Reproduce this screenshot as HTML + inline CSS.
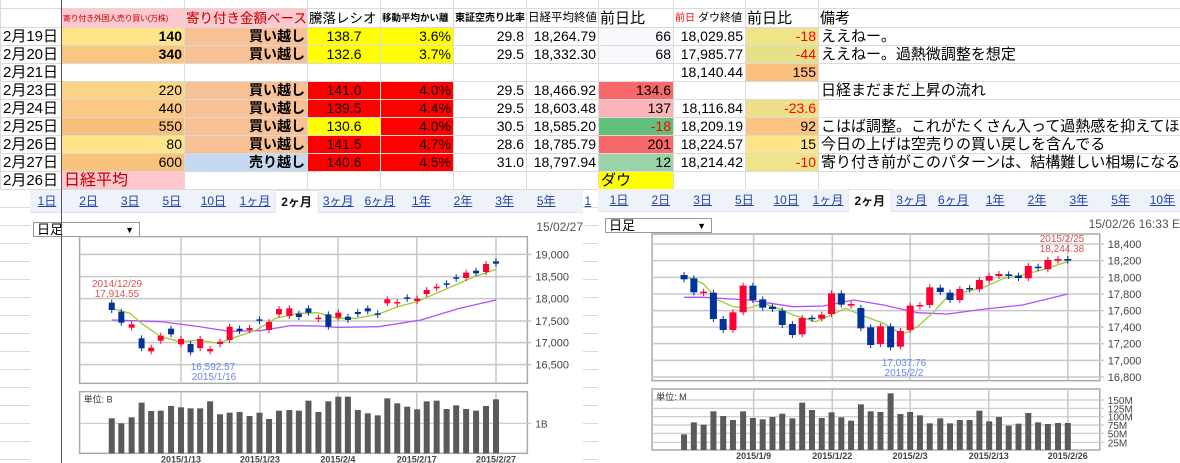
<!DOCTYPE html>
<html><head><meta charset="utf-8"><style>
body{margin:0;width:1180px;height:463px;overflow:hidden;background:#fff;position:relative;font-family:"Liberation Sans","Noto Sans CJK JP",sans-serif;}
#bg{position:absolute;left:0;top:0;width:1180px;height:463px;background:repeating-linear-gradient(to bottom,transparent 0,transparent 17px,#d9d9d9 17px,#d9d9d9 18px);background-position:0 10px;}
table{position:absolute;left:0;top:0;width:1180px;border-collapse:collapse;table-layout:fixed;}
td{border:1px solid #dadada;padding:0 2px;height:17px;font-size:14px;white-space:nowrap;overflow:hidden;line-height:17px;text-align:right;color:#000;}
tr.top td{height:8px;line-height:8px;border-top:none}
tr.h td{height:18px;text-align:left;padding:0 1px}
td.d{text-align:left;font-size:15px;}
.pk{background:#ffc7ce}.y{background:#ffff00}.r{background:#ff0000}.sa{background:#f8c095}.bl{background:#c5d9f1}
.neg{color:#ff0000}
b{font-weight:bold}
.panel{position:absolute;background:#fff;}
.tabs{position:absolute;height:22px;background:#eef2f9;border-bottom:1px solid #dde3ee;}
.tab{position:absolute;top:0;height:22px;line-height:22px;font-size:12px;color:#2244aa;text-decoration:underline;transform:translateX(-50%);white-space:nowrap}
.sel{background:#fff;color:#111;text-decoration:none;font-weight:bold;padding:0 6px;border:1px solid #dde3ee;border-bottom:none}
.dd{position:absolute;border:1px solid #999;background:#fff;font-size:13px;line-height:14px;padding-left:3px;box-sizing:border-box}
.dd span{position:absolute;right:5px;font-size:9px}
</style></head><body>
<div id="bg"></div>
<table>
<colgroup><col style="width:61px"><col style="width:123px"><col style="width:123px"><col style="width:73px"><col style="width:73px"><col style="width:73px"><col style="width:72px"><col style="width:75px"><col style="width:72px"><col style="width:73px"><col style="width:362px"></colgroup>
<tr class="top"><td></td><td></td><td></td><td></td><td></td><td></td><td></td><td></td><td></td><td></td><td></td></tr>
<tr class="h"><td></td><td class="pk" style="font-size:8px;letter-spacing:-0.3px;color:#c00000">寄り付き外国人売り買い(万株)</td><td class="pk" style="font-size:13.5px;color:#c00000">寄り付き金額ベース</td><td style="font-size:13.5px">騰落レシオ</td><td style="font-size:9.5px;font-weight:bold">移動平均かい離</td><td style="font-size:10px;font-weight:bold">東証空売り比率</td><td style="font-size:11.5px">日経平均終値</td><td style="font-size:15px">前日比</td><td style="font-size:11px"><span style="color:red;font-size:10px">前日</span> ダウ終値</td><td style="font-size:15px">前日比</td><td style="font-size:15px">備考</td></tr>
<tr><td class="d">2月19日</td><td style="background:#ffe48a"><b>140</b></td><td class="sa"><b>買い越し</b></td><td class="y" style="text-align:center">138.7</td><td class="y">3.6%</td><td>29.8</td><td>18,264.79</td><td style="background:#f8f9fc">66</td><td>18,029.85</td><td class="neg" style="background:#efe488">-18</td><td class="d">ええねー。</td></tr>
<tr><td class="d">2月20日</td><td style="background:#fac780"><b>340</b></td><td class="sa"><b>買い越し</b></td><td class="y" style="text-align:center">132.6</td><td class="y">3.7%</td><td>29.5</td><td>18,332.30</td><td style="background:#f8f9fc">68</td><td>17,985.77</td><td class="neg" style="background:#e6e088">-44</td><td class="d">ええねー。過熱微調整を想定</td></tr>
<tr><td class="d">2月21日</td><td></td><td></td><td></td><td></td><td></td><td></td><td></td><td>18,140.44</td><td style="background:#fbbf7e">155</td><td></td></tr>
<tr><td class="d">2月23日</td><td style="background:#fcd486">220</td><td class="sa"><b>買い越し</b></td><td class="r" style="text-align:center">141.0</td><td class="r">4.0%</td><td>29.5</td><td>18,466.92</td><td style="background:#f8696b">134.6</td><td></td><td></td><td class="d">日経まだまだ上昇の流れ</td></tr>
<tr><td class="d">2月24日</td><td style="background:#fbc984">440</td><td class="sa"><b>買い越し</b></td><td class="r" style="text-align:center">139.5</td><td class="r">4.4%</td><td>29.5</td><td>18,603.48</td><td style="background:#fbb5b8">137</td><td>18,116.84</td><td class="neg" style="background:#ede088">-23.6</td><td></td></tr>
<tr><td class="d">2月25日</td><td style="background:#f9bf7c">550</td><td class="sa"><b>買い越し</b></td><td class="y" style="text-align:center">130.6</td><td class="r">4.0%</td><td>30.5</td><td>18,585.20</td><td class="neg" style="background:#63be7b">-18</td><td>18,209.19</td><td style="background:#fcc480">92</td><td class="d">こはば調整。これがたくさん入って過熱感を抑えてほしい。</td></tr>
<tr><td class="d">2月26日</td><td style="background:#ffe58a">80</td><td class="sa"><b>買い越し</b></td><td class="r" style="text-align:center">141.5</td><td class="r">4.7%</td><td>28.6</td><td>18,785.79</td><td style="background:#f8696b">201</td><td>18,224.57</td><td style="background:#ffe48a">15</td><td class="d">今日の上げは空売りの買い戻しを含んでる</td></tr>
<tr><td class="d">2月27日</td><td style="background:#f9c37e">600</td><td class="bl"><b>売り越し</b></td><td class="r" style="text-align:center">140.6</td><td class="r">4.5%</td><td>31.0</td><td>18,797.94</td><td style="background:#99d3a7">12</td><td>18,214.42</td><td class="neg" style="background:#f0e48a">-10</td><td class="d">寄り付き前がこのパターンは、結構難しい相場になる場合あり</td></tr>
<tr><td class="d">2月26日</td><td class="pk" style="text-align:left;color:#c00000;font-size:16px">日経平均</td><td></td><td></td><td></td><td></td><td></td><td class="y" style="text-align:left;font-size:15px">ダウ</td><td></td><td></td><td></td></tr>
</table>

<div class="panel" style="left:30px;top:190px;width:553px;height:273px"></div>
<div class="panel" style="left:598px;top:190px;width:582px;height:273px"></div>
<div class="tabs" style="left:30px;top:190px;width:553px"></div>
<div class="tabs" style="left:598px;top:189px;width:582px"></div>
<div id="tabsL"></div><div id="tabsR"></div>
<div class="dd" style="left:33px;top:222px;width:107px;height:15px">日足<span>▼</span></div>
<div class="dd" style="left:605px;top:218px;width:107px;height:15px">日足<span>▼</span></div>
<div style="position:absolute;right:597px;top:220px;font-size:12px;color:#555">15/02/27</div>
<div style="position:absolute;right:0;top:217px;font-size:12px;color:#555;white-space:nowrap">15/02/26 16:33 E</div>
<svg id="ch" width="1180" height="463" style="position:absolute;left:0;top:0"></svg>
<div style="position:absolute;left:61px;top:0;width:1px;height:463px;background:#555"></div>
<script>
var tl=["1日","2日","3日","5日","10日","1ヶ月","2ヶ月","3ヶ月","6ヶ月","1年","2年","3年","5年","1"];
var h="";tl.forEach(function(t,i){var x=47+i*41.6;h+='<div class="tab'+(i==6?' sel':'')+'" style="left:'+x+'px;top:190px">'+t+'</div>';});
document.getElementById("tabsL").innerHTML=h;
var tr=["1日","2日","3日","5日","10日","1ヶ月","2ヶ月","3ヶ月","6ヶ月","1年","2年","3年","5年","10年"];
h="";tr.forEach(function(t,i){var x=619+i*41.8;h+='<div class="tab'+(i==6?' sel':'')+'" style="left:'+x+'px;top:189px">'+t+'</div>';});
document.getElementById("tabsR").innerHTML=h;
var s="";
function L(x){return x/2.613} function R(x){return 590+x/2.658} function Y(y){return 190+y/3}
function chart(X,box,hl,vl,ylab,vbox,vgl,vlab,dates,cand,bw,g,p,vol,vb,ann){
 s+='<rect x="'+X(box[0])+'" y="'+Y(box[1])+'" width="'+(X(box[2])-X(box[0]))+'" height="'+(Y(box[3])-Y(box[1]))+'" fill="#fff" stroke="#aaa" stroke-width="1.5"/>';
 hl.forEach(function(y){s+='<line x1="'+X(box[0])+'" x2="'+(X(box[2])+4)+'" y1="'+Y(y)+'" y2="'+Y(y)+'" stroke="#c8c8c8" stroke-width="1.5"/>'});
 ylab.forEach(function(a){s+='<text x="'+(X(box[2])+8)+'" y="'+(Y(a[0])+4)+'" font-size="11" fill="#444">'+a[1]+'</text>'});
 s+='<rect x="'+X(vbox[0])+'" y="'+Y(vbox[1])+'" width="'+(X(vbox[2])-X(vbox[0]))+'" height="'+(Y(vbox[3])-Y(vbox[1]))+'" fill="#fff" stroke="#aaa" stroke-width="1.5"/>';
 vgl.forEach(function(a){s+='<line x1="'+X(vbox[0])+'" x2="'+(X(vbox[2])+4)+'" y1="'+Y(a[0])+'" y2="'+Y(a[0])+'" stroke="#c8c8c8" stroke-width="1.2"/><text x="'+(X(vbox[2])+8)+'" y="'+(Y(a[0])+4)+'" font-size="10" fill="#444">'+a[1]+'</text>'});
 vl.forEach(function(x){s+='<line x1="'+X(x)+'" x2="'+X(x)+'" y1="'+Y(box[1])+'" y2="'+Y(box[3])+'" stroke="#c8c8c8" stroke-width="1.5"/><line x1="'+X(x)+'" x2="'+X(x)+'" y1="'+Y(vbox[1])+'" y2="'+Y(vbox[3])+'" stroke="#c8c8c8" stroke-width="1.5"/>'});
 dates.forEach(function(a){s+='<text x="'+X(a[0])+'" y="'+(Y(vbox[3])+9)+'" font-size="9" font-weight="bold" fill="#444" text-anchor="middle">'+a[1]+'</text>'});
 s+='<text x="'+(X(vbox[0])+4)+'" y="'+(Y(vbox[1])+11)+'" font-size="9" fill="#333">'+vlab+'</text>';
 vol.forEach(function(t,i){var x=X(cand[i][0]);s+='<rect x="'+(x-3)+'" y="'+Y(t)+'" width="6" height="'+(Y(vb)-Y(t))+'" fill="#5a5a5a"/>'});
 function pl(pts,c){return '<polyline fill="none" stroke="'+c+'" stroke-width="1.3" points="'+pts.map(function(q){return X(q[0])+','+Y(q[1])}).join(' ')+'"/>'}
 s+=pl(p,"#b44dff")+pl(g,"#9acd32");
 cand.forEach(function(c){var x=X(c[0]),t=Y(c[1]),b=Y(c[2]),col=c[3]?"#ff0033":"#003399";var hh=Math.max(b-t,1.5);
  s+='<line x1="'+x+'" x2="'+x+'" y1="'+(t-3)+'" y2="'+(t+hh+3)+'" stroke="'+col+'"/><rect x="'+(x-bw/2)+'" y="'+t+'" width="'+bw+'" height="'+hh+'" fill="'+col+'"/>'});
 ann.forEach(function(a){s+='<text x="'+a[0]+'" y="'+a[1]+'" font-size="10" fill="'+a[3]+'" text-anchor="middle">'+a[2]+'</text>'});
}
var cl=[[292,338,360,0],[317,365,398,0],[344,403,413,1],[370,445,475,0],[395,473,484,1],[420,437,452,1],[447,416,433,0],[473,447,463,1],[498,462,487,0],[523,447,474,1],[549,477,484,1],[575,455,462,1],[600,410,450,1],[626,416,423,0],[652,414,420,1],[678,388,392,0],[703,396,420,1],[729,357,373,1],[756,355,378,1],[781,371,381,0],[806,355,368,0],[832,383,385,1],[858,373,410,0],[884,368,383,1],[909,380,390,0],[935,366,372,0],[961,355,364,0],[987,370,373,0],[1012,328,340,1],[1038,336,340,1],[1064,322,325,0],[1090,326,333,1],[1115,300,312,1],[1141,290,295,1],[1167,280,283,0],[1192,262,266,0],[1218,248,264,1],[1244,242,250,0],[1270,222,246,1],[1296,214,221,0]];
var vlft=[685,700,682,638,663,662,648,652,655,655,634,673,668,666,678,668,687,662,660,662,632,666,634,620,620,660,670,676,625,640,650,658,634,632,657,646,657,662,648,628];
chart(L,[208,140,1378,580],[193,260,326,393,458,524],[473,679,883,1089,1296],[[193,"19,000"],[260,"18,500"],[326,"18,000"],[393,"17,500"],[458,"17,000"],[524,"16,500"]],[208,605,1378,790],[[700,"1B"]],"単位: B",[[473,"2015/1/13"],[679,"2015/1/23"],[883,"2015/2/4"],[1089,"2015/2/17"],[1296,"2015/2/27"]],cl,6,
[[292,355],[340,370],[370,400],[420,440],[470,455],[520,450],[570,460],[620,440],[670,420],[720,385],[780,370],[830,368],[880,385],[930,385],[990,372],[1040,350],[1090,335],[1140,310],[1190,285],[1240,260],[1296,238]],
[[292,390],[420,395],[520,410],[600,424],[680,422],[760,407],[830,408],[880,412],[990,410],[1100,390],[1200,355],[1296,330]],vlft,790,
[[117,287,"2014/12/29","#e05050"],[117,297,"17,914.55","#e05050"],[213,370,"16,592.57","#6688ee"],[214,380,"2015/1/16","#6688ee"]]);
var cr=[[250,255,268,0],[276,265,307,0],[302,305,308,1],[328,308,387,0],[354,387,420,0],[380,367,420,1],[407,287,367,1],[433,287,330,0],[459,328,353,0],[485,350,357,0],[511,362,405,0],[538,402,435,0],[564,384,433,1],[590,383,385,0],[616,374,386,1],[642,310,372,1],[668,310,344,0],[694,342,347,1],[720,354,415,0],[746,412,465,0],[772,409,462,1],[799,409,472,0],[825,423,470,1],[851,347,420,1],[877,345,348,1],[903,292,345,1],[931,293,306,0],[957,308,330,0],[983,297,330,1],[1009,294,298,0],[1035,270,298,1],[1061,258,272,1],[1087,252,258,1],[1113,253,258,0],[1139,257,264,0],[1165,228,265,1],[1191,230,234,0],[1217,210,238,1],[1244,207,212,1],[1270,207,212,0]];
var vr=[733,697,704,664,678,690,664,684,688,681,671,685,638,660,684,667,682,692,643,664,666,610,672,666,676,700,685,700,690,690,662,694,681,707,701,669,697,702,699,699];
chart(R,[165,132,1355,572],[162,212,262,312,362,411,461,511,561],[435,644,851,1060,1270],[[162,"18,400"],[212,"18,200"],[262,"18,000"],[312,"17,800"],[362,"17,600"],[411,"17,400"],[461,"17,200"],[511,"17,000"],[561,"16,800"]],[165,597,1355,780],[[630,"150M"],[655,"125M"],[680,"100M"],[705,"75M"],[730,"50M"],[757,"25M"]],"単位: M",[[435,"2015/1/9"],[644,"2015/1/22"],[851,"2015/2/3"],[1060,"2015/2/13"],[1270,"2015/2/26"]],cr,7,
[[250,258],[300,280],[340,330],[380,350],[420,355],[460,340],[500,355],[540,375],[600,395],[640,375],[680,355],[720,375],[780,400],[830,433],[870,410],[910,370],[950,320],[1000,305],[1050,290],[1100,265],[1150,255],[1200,240],[1270,215]],
[[250,322],[300,322],[420,330],[540,350],[620,348],[700,330],[780,345],[870,368],[950,372],[1050,357],[1150,345],[1270,312]],vr,780,
[[1062,242,"2015/2/25","#e05050"],[1062,252,"18,244.38","#e05050"],[904,366,"17,037.76","#6688ee"],[904,376,"2015/2/2","#6688ee"]]);
document.getElementById("ch").innerHTML=s;
</script>
</body></html>
